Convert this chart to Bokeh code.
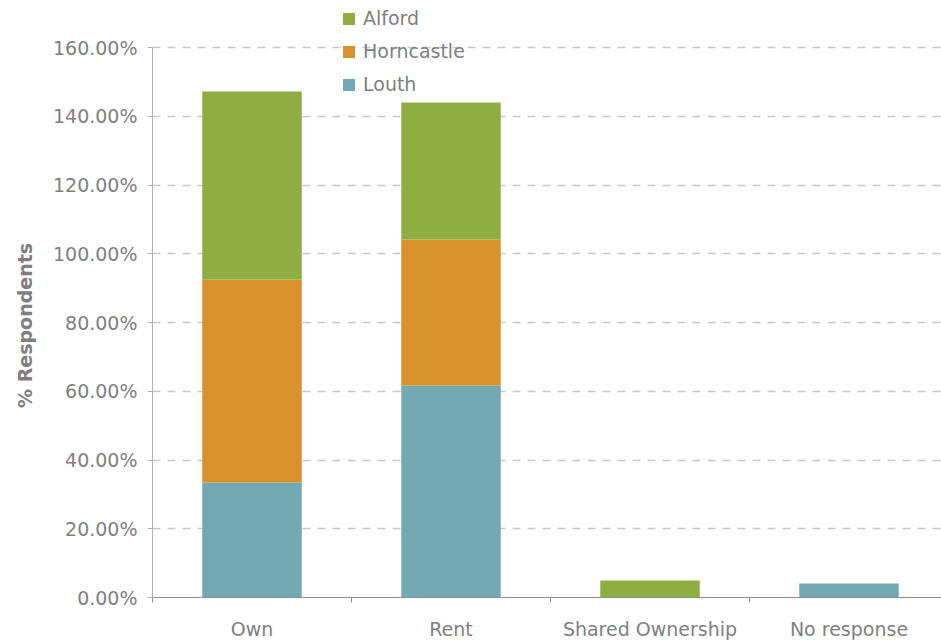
from bokeh.plotting import figure
from bokeh.models import (Range1d, FixedTicker, PrintfTickFormatter, Legend,
                          LegendItem, ColumnDataSource)
from bokeh.embed import file_html
from bokeh.resources import INLINE

# ---- data ----
categories = ["Own", "Rent", "Shared Ownership", "No response"]
louth = [33.45, 61.67, 0.0, 4.07]
horncastle = [59.05, 42.45, 0.0, 0.0]
alford = [54.70, 39.90, 4.95, 0.0]
series_names = ["Louth", "Horncastle", "Alford"]
series_colors = ["#72A9B3", "#D7922B", "#8FAE41"]
y_ticks = [0, 20, 40, 60, 80, 100, 120, 140, 160]
y_label = "% Respondents"

x_pos = [i + 0.5 for i in range(len(categories))]
boundaries = list(range(len(categories) + 1))

source = ColumnDataSource(dict(x=x_pos, Louth=louth, Horncastle=horncastle, Alford=alford))

FONT = "DejaVu Sans"
GREY = "#7f7f7f"

W, H = 941, 642
LEFT, BOTTOM = 152, 45
frame_h = H - BOTTOM            # frame spans the full top so the legend fits
px_per_unit = 550 / 160         # 160% spans 550 px
cat_px = 199

p = figure(width=W, height=H, output_backend="svg", toolbar_location=None,
           x_range=Range1d(0, (W - LEFT) / cat_px),
           y_range=Range1d(0, frame_h / px_per_unit),
           min_border_left=LEFT, min_border_right=0, min_border_top=0,
           min_border_bottom=BOTTOM, outline_line_color=None)

rs = p.vbar_stack(series_names, x="x", width=0.5, color=series_colors,
                  line_color=None, source=source)

# y axis
p.yaxis.ticker = FixedTicker(ticks=y_ticks)
p.yaxis.bounds = (y_ticks[0], y_ticks[-1])
p.yaxis.formatter = PrintfTickFormatter(format="%.2f%%")
p.yaxis.axis_line_color = "#b0b0b0"
p.yaxis.major_tick_line_color = "#b0b0b0"
p.yaxis.major_tick_out = 5
p.yaxis.major_tick_in = 0
p.yaxis.minor_tick_line_color = None
p.yaxis.major_label_text_font = FONT
p.yaxis.major_label_text_font_size = "19px"
p.yaxis.major_label_text_color = GREY
p.yaxis.major_label_standoff = 10
# trailing no-break spaces shift the label's centre down onto the 0-160 span
p.yaxis.axis_label = y_label + "\u00a0" * 8
p.yaxis.axis_label_text_font = FONT
p.yaxis.axis_label_text_font_style = "bold"
p.yaxis.axis_label_text_font_size = "19px"
p.yaxis.axis_label_text_color = GREY
p.yaxis.axis_label_standoff = 14

# x axis
p.xaxis.ticker = FixedTicker(ticks=x_pos, minor_ticks=boundaries)
p.xaxis.major_label_overrides = {x: c for x, c in zip(x_pos, categories)}
p.xaxis.axis_line_color = "#8f8f8f"
p.xaxis.major_tick_out = 0
p.xaxis.major_tick_in = 0
p.xaxis.major_tick_line_color = None
p.xaxis.minor_tick_out = 5
p.xaxis.minor_tick_in = 0
p.xaxis.minor_tick_line_color = "#8f8f8f"
p.xaxis.major_label_text_font = FONT
p.xaxis.major_label_text_font_size = "19px"
p.xaxis.major_label_text_color = GREY
p.xaxis.major_label_standoff = 15

# grid
p.xgrid.visible = False
p.ygrid.ticker = FixedTicker(ticks=y_ticks)
p.ygrid.grid_line_color = "#c8c8c8"
p.ygrid.grid_line_dash = "8 7"
p.ygrid.grid_line_width = 1.5

# legend
items = [LegendItem(label=n, renderers=[r]) for n, r in zip(series_names, rs)][::-1]
legend = Legend(items=items, location=(189, 502), orientation="vertical",
                glyph_width=15, glyph_height=15, label_height=22, spacing=11,
                padding=0, margin=0, border_line_color=None,
                background_fill_alpha=0, label_standoff=7,
                label_text_font=FONT, label_text_font_size="19px",
                label_text_color=GREY)
p.add_layout(legend)

open("out.html", "w").write(file_html(p, INLINE))
